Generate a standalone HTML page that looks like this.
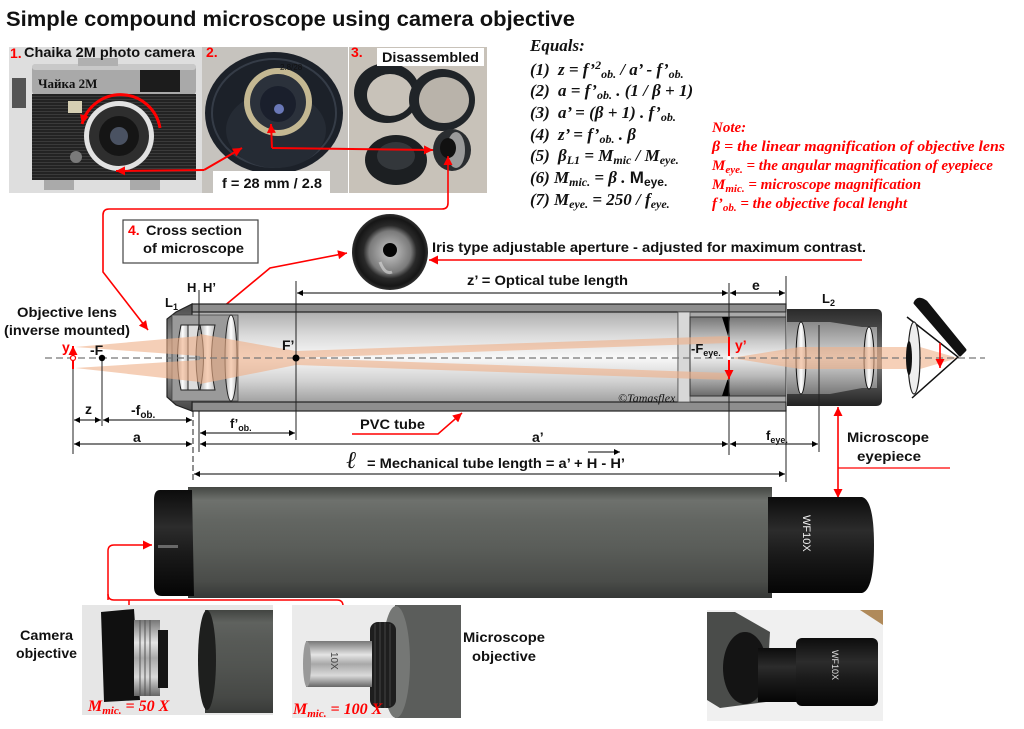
<!DOCTYPE html>
<html><head><meta charset="utf-8"><style>
html,body{margin:0;padding:0;background:#fff;}
svg{display:block;}
text{font-family:"Liberation Sans",Arial,sans-serif;font-weight:bold;fill:#111;}
.s{font-family:"Liberation Serif",serif;font-style:italic;font-weight:bold;}
.r{fill:#f00;}
</style></head><body>
<svg width="1024" height="729" viewBox="0 0 1024 729" xmlns="http://www.w3.org/2000/svg">
<defs>
<marker id="ab" viewBox="0 0 10 10" refX="10" refY="5" markerUnits="userSpaceOnUse" markerWidth="9" markerHeight="6" orient="auto-start-reverse"><path d="M0,0 L10,5 L0,10 z" fill="#000"/></marker>
<marker id="ar" viewBox="0 0 10 10" refX="10" refY="5" markerUnits="userSpaceOnUse" markerWidth="13" markerHeight="9" orient="auto-start-reverse"><path d="M0,0 L10,5 L0,10 z" fill="#f00"/></marker>
<linearGradient id="tubeG" x1="0" y1="0" x2="0" y2="1"><stop offset="0" stop-color="#8a8a8a"/><stop offset="0.1" stop-color="#b4b4b4"/><stop offset="0.3" stop-color="#dcdcdc"/><stop offset="0.5" stop-color="#f8f8f8"/><stop offset="0.72" stop-color="#d2d2d2"/><stop offset="0.92" stop-color="#a0a0a0"/><stop offset="1" stop-color="#7a7a7a"/></linearGradient>
<linearGradient id="insG" x1="0" y1="0" x2="0" y2="1"><stop offset="0" stop-color="#777"/><stop offset="0.3" stop-color="#c8c8c8"/><stop offset="0.5" stop-color="#eee"/><stop offset="0.75" stop-color="#b8b8b8"/><stop offset="1" stop-color="#6a6a6a"/></linearGradient>
<linearGradient id="eyeG" x1="0" y1="0" x2="0" y2="1"><stop offset="0" stop-color="#2a2a2a"/><stop offset="0.35" stop-color="#5e5e5e"/><stop offset="0.55" stop-color="#7a7a7a"/><stop offset="0.8" stop-color="#4a4a4a"/><stop offset="1" stop-color="#222"/></linearGradient>
<linearGradient id="eyeIn" x1="0" y1="0" x2="0" y2="1"><stop offset="0" stop-color="#8a8a8a"/><stop offset="0.5" stop-color="#d8d8d8"/><stop offset="1" stop-color="#7a7a7a"/></linearGradient>
<linearGradient id="objG" x1="0" y1="0" x2="0" y2="1"><stop offset="0" stop-color="#4a4a4a"/><stop offset="0.5" stop-color="#a8a8a8"/><stop offset="1" stop-color="#444"/></linearGradient>
<linearGradient id="lensG" x1="0" y1="0" x2="1" y2="0"><stop offset="0" stop-color="#aaa"/><stop offset="0.5" stop-color="#fff"/><stop offset="1" stop-color="#bbb"/></linearGradient>
<linearGradient id="pTube" x1="0" y1="0" x2="0" y2="1"><stop offset="0" stop-color="#444743"/><stop offset="0.12" stop-color="#6e716d"/><stop offset="0.3" stop-color="#636662"/><stop offset="0.55" stop-color="#5a5d59"/><stop offset="0.85" stop-color="#4a4c49"/><stop offset="1" stop-color="#363836"/></linearGradient>
<linearGradient id="pBlack" x1="0" y1="0" x2="0" y2="1"><stop offset="0" stop-color="#0c0c0c"/><stop offset="0.35" stop-color="#2c2c2c"/><stop offset="0.6" stop-color="#1a1a1a"/><stop offset="1" stop-color="#050505"/></linearGradient>
<linearGradient id="silv" x1="0" y1="0" x2="0" y2="1"><stop offset="0" stop-color="#777"/><stop offset="0.3" stop-color="#e4e4e4"/><stop offset="0.5" stop-color="#a8a8a8"/><stop offset="0.75" stop-color="#dadada"/><stop offset="1" stop-color="#666"/></linearGradient>
<radialGradient id="irisG" cx="0.5" cy="0.5" r="0.5"><stop offset="0" stop-color="#c8c8c8"/><stop offset="0.55" stop-color="#7a7a7a"/><stop offset="0.7" stop-color="#2a2a2a"/><stop offset="0.9" stop-color="#161616"/><stop offset="1" stop-color="#303030"/></radialGradient>
<pattern id="lines" width="4" height="3" patternUnits="userSpaceOnUse"><rect width="4" height="3" fill="#232323"/><rect width="4" height="1" fill="#3a3a3a"/></pattern>
</defs>

<!-- Title -->
<text x="6" y="26" font-size="21" textLength="569" lengthAdjust="spacingAndGlyphs">Simple compound microscope using camera objective</text>

<!-- Photo 1: camera -->
<rect x="9" y="47" width="193" height="146" fill="#dedede"/>
<rect x="12" y="78" width="14" height="30" fill="#555"/>
<rect x="32" y="64" width="164" height="31" rx="4" fill="#a9a9a9"/>
<rect x="32" y="64" width="164" height="6" rx="3" fill="#c8c8c8"/>
<rect x="140" y="70" width="40" height="22" fill="#1c1c1c"/>
<rect x="78" y="58" width="40" height="8" fill="#b0b0b0"/>
<text x="38" y="88" font-size="13" style="font-family:'Liberation Serif',serif" fill="#222">Чайка 2M</text>
<rect x="32" y="94" width="164" height="86" fill="url(#lines)"/>
<rect x="68" y="101" width="14" height="12" fill="#d6cfb3"/>
<circle cx="76" cy="157" r="6" fill="#7a7a7a"/>
<rect x="44" y="180" width="30" height="10" fill="#aaa"/>
<rect x="130" y="180" width="30" height="10" fill="#aaa"/>
<circle cx="119" cy="136" r="35" fill="#e2e2e2"/>
<circle cx="119" cy="136" r="30" fill="#2e2e2e"/>
<circle cx="119" cy="136" r="20" fill="#151515"/>
<circle cx="119" cy="136" r="9" fill="#4a5262"/>
<path d="M160,128 A40,40 0 0 0 82,124" fill="none" stroke="#f00" stroke-width="3" marker-end="url(#ar)"/>
<text x="10" y="58" font-size="14" class="r">1.</text>
<text x="24" y="57" font-size="14" textLength="171" lengthAdjust="spacingAndGlyphs">Chaika 2M photo camera</text>

<!-- Photo 2: lens -->
<rect x="202" y="47" width="146" height="146" fill="#c6c3be"/>
<ellipse cx="274" cy="113" rx="69" ry="61" fill="#1c2129"/>
<ellipse cx="274" cy="113" rx="62" ry="54" fill="none" stroke="#353c47" stroke-width="2"/>
<ellipse cx="276" cy="130" rx="50" ry="38" fill="#252b34"/>
<circle cx="278" cy="102" r="34" fill="#c4b892"/>
<circle cx="278" cy="102" r="28" fill="#2b313b"/>
<circle cx="278" cy="104" r="18" fill="#1a1f2c"/>
<circle cx="279" cy="109" r="5" fill="#6a78b8"/>
<text x="280" y="70" font-size="8" fill="#ddd" style="font-weight:normal">2.8/28</text>
<text x="206" y="57" font-size="14" class="r">2.</text>
<rect x="213" y="171" width="117" height="22" fill="#fff"/>
<text x="222" y="188" font-size="14" textLength="100" lengthAdjust="spacingAndGlyphs">f = 28 mm / 2.8</text>

<!-- Photo 3: disassembled -->
<rect x="349" y="47" width="138" height="146" fill="#c8c2b9"/>
<ellipse cx="387" cy="93" rx="33" ry="30" fill="#1e2226"/>
<ellipse cx="390" cy="95" rx="23" ry="21" fill="#c8c2b9"/>
<ellipse cx="442" cy="100" rx="33" ry="31" fill="#202428"/>
<ellipse cx="444" cy="100" rx="25" ry="23" fill="#b9b3aa"/>
<ellipse cx="396" cy="160" rx="31" ry="25" fill="#1c1f22"/>
<ellipse cx="396" cy="156" rx="19" ry="14" fill="#33373b"/>
<ellipse cx="452" cy="150" rx="19" ry="21" fill="#2a2d30"/>
<ellipse cx="456" cy="150" rx="9" ry="18" fill="#9a9a9a"/>
<ellipse cx="448" cy="148" rx="8" ry="10" fill="#111"/>
<text x="351" y="57" font-size="14" class="r">3.</text>
<rect x="377" y="48" width="107" height="18" fill="#fff"/>
<text x="382" y="62" font-size="14" textLength="97" lengthAdjust="spacingAndGlyphs">Disassembled</text>

<!-- Red connectors in photos -->
<polyline points="204,170 242,148" fill="none" stroke="#f00" stroke-width="2" marker-end="url(#ar)"/>
<polyline points="204,170 116,171" fill="none" stroke="#f00" stroke-width="2" marker-end="url(#ar)"/>
<polyline points="272,148 271,124" fill="none" stroke="#f00" stroke-width="2" marker-end="url(#ar)"/>
<polyline points="272,148 433,150" fill="none" stroke="#f00" stroke-width="2" marker-end="url(#ar)"/>
<path d="M448,156 L448,203 Q448,209 442,209 L109,209 Q103,209 103,215 L103,272 L148,330" fill="none" stroke="#f00" stroke-width="1.6" marker-end="url(#ar)" marker-start="url(#ar)"/>

<!-- Equations -->
<g class="s" font-size="17">
<text x="530" y="51" class="s" font-size="17">Equals:</text>
<text x="530" y="75" class="s" font-size="17">(1)</text>
<text x="558" y="75" class="s" font-size="17">z = f’<tspan dy="-6" font-size="12">2</tspan><tspan dy="9" font-size="12">ob.</tspan><tspan dy="-3"> / a’ - f’</tspan><tspan dy="3" font-size="12">ob.</tspan></text>
<text x="530" y="96" class="s" font-size="17">(2)</text>
<text x="558" y="96" class="s" font-size="17">a = f’<tspan dy="3" font-size="12">ob.</tspan><tspan dy="-3"> . (1 / β + 1)</tspan></text>
<text x="530" y="118" class="s" font-size="17">(3)</text>
<text x="558" y="118" class="s" font-size="17">a’ = (β + 1) . f’<tspan dy="3" font-size="12">ob.</tspan></text>
<text x="530" y="140" class="s" font-size="17">(4)</text>
<text x="558" y="140" class="s" font-size="17">z’ = f’<tspan dy="3" font-size="12">ob.</tspan><tspan dy="-3"> . β</tspan></text>
<text x="530" y="161" class="s" font-size="17">(5)</text>
<text x="558" y="161" class="s" font-size="17">β<tspan dy="3" font-size="12">L1</tspan><tspan dy="-3"> = M</tspan><tspan dy="3" font-size="12">mic</tspan><tspan dy="-3"> / M</tspan><tspan dy="3" font-size="12">eye.</tspan></text>
<text x="530" y="183" class="s" font-size="17">(6)</text>
<text x="554" y="183" class="s" font-size="17">M<tspan dy="3" font-size="12">mic.</tspan><tspan dy="-3"> = β . </tspan><tspan style="font-family:'Liberation Sans',sans-serif;font-style:normal">M</tspan><tspan dy="3" font-size="12" style="font-family:'Liberation Sans',sans-serif;font-style:normal">eye.</tspan></text>
<text x="530" y="205" class="s" font-size="17">(7)</text>
<text x="554" y="205" class="s" font-size="17">M<tspan dy="3" font-size="12">eye.</tspan><tspan dy="-3"> = 250 / f</tspan><tspan dy="3" font-size="12">eye.</tspan></text>
</g>

<!-- Note -->
<g>
<text x="712" y="132" class="s r" font-size="15">Note:</text>
<text x="712" y="151" class="s r" font-size="15" textLength="293" lengthAdjust="spacingAndGlyphs">β = the linear magnification of objective lens</text>
<text x="712" y="170" class="s r" font-size="15">M<tspan dy="3" font-size="11">eye.</tspan><tspan dy="-3"> = the angular magnification of eyepiece</tspan></text>
<text x="712" y="189" class="s r" font-size="15">M<tspan dy="3" font-size="11">mic.</tspan><tspan dy="-3"> = microscope magnification</tspan></text>
<text x="712" y="208" class="s r" font-size="15">f’<tspan dy="3" font-size="11">ob.</tspan><tspan dy="-3"> = the objective focal lenght</tspan></text>
</g>

<!-- Cross-section label box -->
<rect x="123" y="220" width="135" height="43" fill="#fff" stroke="#444" stroke-width="1.2"/>
<text x="128" y="235" font-size="14" class="r">4.</text>
<text x="146" y="235" font-size="14" textLength="96" lengthAdjust="spacingAndGlyphs">Cross section</text>
<text x="143" y="253" font-size="14" textLength="101" lengthAdjust="spacingAndGlyphs">of microscope</text>

<!-- Iris photo -->
<circle cx="390" cy="252" r="38" fill="url(#irisG)"/>
<circle cx="390" cy="250" r="7" fill="#050505"/>
<path d="M380,262 Q385,275 392,272" stroke="#ddd" stroke-width="3" fill="none" opacity="0.6"/>
<text x="432" y="252" font-size="14" textLength="434" lengthAdjust="spacingAndGlyphs">Iris type adjustable aperture - adjusted for maximum contrast.</text>
<line x1="862" y1="260" x2="429" y2="260" stroke="#f00" stroke-width="1.6" marker-end="url(#ar)"/>
<polyline points="199,327 270,268 347,253" fill="none" stroke="#f00" stroke-width="1.6" marker-end="url(#ar)" marker-start="url(#ar)"/>

<!-- Tube cross-section -->
<rect x="192" y="304" width="594" height="107" fill="url(#tubeG)"/>
<rect x="192" y="304" width="594" height="8" fill="#8e8e8e" stroke="#222" stroke-width="1.2"/>
<rect x="192" y="402" width="594" height="9" fill="#8e8e8e" stroke="#222" stroke-width="1.2"/>
<!-- eyepiece insert -->
<rect x="678" y="312" width="108" height="90" fill="#aaa" stroke="#333" stroke-width="1"/>
<rect x="678" y="312" width="12" height="90" fill="#d8d8d8" stroke="#555" stroke-width="0.8"/>
<rect x="690" y="317" width="96" height="79" fill="url(#insG)" stroke="#333" stroke-width="1"/>
<polygon points="722,317 730,317 728,336" fill="#000"/>
<polygon points="722,396 730,396 728,378" fill="#000"/>
<!-- eyepiece housing -->
<path d="M787,309 L876,309 Q882,309 882,315 L882,400 Q882,406 876,406 L787,406 Z" fill="url(#eyeG)"/>
<polygon points="787,322 830,322 862,327 877,327 877,388 862,388 830,394 787,394" fill="url(#eyeIn)"/>
<ellipse cx="801" cy="358" rx="5" ry="36" fill="url(#lensG)" stroke="#111" stroke-width="1"/>
<ellipse cx="869" cy="358" rx="5" ry="31" fill="url(#lensG)" stroke="#111" stroke-width="1"/>
<!-- objective housing -->
<polygon points="192,304 176,312 167,319 167,397 176,405 192,411" fill="url(#objG)" stroke="#222" stroke-width="1.2"/>
<rect x="172" y="315" width="66" height="86" fill="#9a9a9a" stroke="#444" stroke-width="0.8"/>
<path d="M181,325 Q174,358 181,390 L188,390 L188,325 Z" fill="url(#lensG)" stroke="#222" stroke-width="1"/>
<path d="M188,325 L199,325 Q193,358 199,390 L188,390 Z" fill="#ddd" stroke="#222" stroke-width="1"/>
<path d="M200,325 L215,325 Q208,358 215,390 L200,390 Q207,358 200,325 Z" fill="url(#lensG)" stroke="#222" stroke-width="1"/>
<ellipse cx="231" cy="358" rx="6" ry="43" fill="url(#lensG)" stroke="#222" stroke-width="1"/>

<!-- light beams -->
<g fill="#f0b088" opacity="0.6">
<polygon points="75,347 200,336 200,356"/>
<polygon points="75,368 200,360 200,382"/>
<polygon points="200,334 296,351 296,365 200,384"/>
<polygon points="296,351 728,336 728,343 296,358"/>
<polygon points="296,358 728,373 728,380 296,365"/>
<polygon points="731,358 800,347 920,347 958,358 920,369 800,369"/>
</g>

<!-- optical axis -->
<line x1="45" y1="358" x2="985" y2="358" stroke="#777" stroke-width="1.2" stroke-dasharray="7,4"/>

<!-- eye -->
<path d="M907,317 L958,357 L912,398" fill="none" stroke="#111" stroke-width="1.5"/>
<ellipse cx="914" cy="358" rx="6" ry="36" fill="#eee" stroke="#222" stroke-width="1.2"/>
<ellipse cx="909" cy="358" rx="3" ry="17" fill="#111"/>
<path d="M915,303 Q918,296 926,302 L965,350 L960,355 Z" fill="#111" stroke="#111" stroke-width="3" stroke-linejoin="round"/>
<line x1="940" y1="343" x2="940" y2="368" stroke="#f00" stroke-width="1.6" marker-end="url(#ar)"/>

<!-- vertical reference lines -->
<g stroke="#222" stroke-width="1">
<line x1="73" y1="368" x2="73" y2="454"/>
<line x1="102" y1="358" x2="102" y2="426"/>
<line x1="193" y1="411" x2="193" y2="480" stroke-dasharray="6,3"/>
<line x1="199" y1="290" x2="199" y2="330"/>
<line x1="199" y1="411" x2="199" y2="452"/>
<line x1="296" y1="281" x2="296" y2="440"/>
<line x1="729" y1="283" x2="729" y2="455"/>
<line x1="786" y1="276" x2="786" y2="304"/>
<line x1="786" y1="406" x2="786" y2="482"/>
<line x1="819" y1="325" x2="819" y2="452"/>
</g>
<circle cx="102" cy="358" r="3.2" fill="#000"/>
<circle cx="296" cy="358" r="3.5" fill="#000"/>

<!-- object and image arrows -->
<line x1="73" y1="369" x2="73" y2="346" stroke="#f00" stroke-width="2" marker-end="url(#ar)"/>
<circle cx="73" cy="358" r="2.5" fill="#fff" stroke="#f00" stroke-width="1.2"/>
<line x1="729" y1="337" x2="729" y2="379" stroke="#f00" stroke-width="2" marker-end="url(#ar)"/>
<circle cx="729" cy="358" r="2" fill="#fff"/>

<!-- dimension lines -->
<g stroke="#000" stroke-width="1" fill="none">
<line x1="74" y1="420" x2="101" y2="420" marker-start="url(#ab)" marker-end="url(#ab)"/>
<line x1="103" y1="420" x2="192" y2="420" marker-start="url(#ab)" marker-end="url(#ab)"/>
<line x1="200" y1="433" x2="295" y2="433" marker-start="url(#ab)" marker-end="url(#ab)"/>
<line x1="74" y1="444" x2="192" y2="444" marker-start="url(#ab)" marker-end="url(#ab)"/>
<line x1="200" y1="444" x2="728" y2="444" marker-start="url(#ab)" marker-end="url(#ab)"/>
<line x1="730" y1="444" x2="818" y2="444" marker-start="url(#ab)" marker-end="url(#ab)"/>
<line x1="194" y1="474" x2="785" y2="474" marker-start="url(#ab)" marker-end="url(#ab)"/>
<line x1="297" y1="293" x2="728" y2="293" marker-start="url(#ab)" marker-end="url(#ab)"/>
<line x1="730" y1="293" x2="785" y2="293" marker-start="url(#ab)" marker-end="url(#ab)"/>
<line x1="588" y1="452" x2="620" y2="452" marker-end="url(#ab)"/>
</g>

<!-- cross-section labels -->
<text x="17" y="317" font-size="14" textLength="100" lengthAdjust="spacingAndGlyphs">Objective lens</text>
<text x="4" y="335" font-size="14" textLength="126" lengthAdjust="spacingAndGlyphs">(inverse mounted)</text>
<text x="165" y="307" font-size="13">L<tspan dy="3" font-size="9">1</tspan></text>
<text x="187" y="292" font-size="13">H</text>
<text x="203" y="292" font-size="13">H’</text>
<text x="62" y="352" font-size="14" class="r">y</text>
<text x="90" y="355" font-size="14">-F</text>
<text x="282" y="350" font-size="14">F’</text>
<text x="85" y="414" font-size="14">z</text>
<text x="131" y="415" font-size="14">-f<tspan dy="3" font-size="10">ob.</tspan></text>
<text x="133" y="442" font-size="14">a</text>
<text x="230" y="428" font-size="13">f’<tspan dy="3" font-size="9">ob.</tspan></text>
<text x="360" y="429" font-size="14" textLength="65" lengthAdjust="spacingAndGlyphs">PVC tube</text>
<polyline points="352,434 438,434 462,413" fill="none" stroke="#f00" stroke-width="1.5" marker-end="url(#ar)"/>
<text x="532" y="442" font-size="14">a’</text>
<text x="346" y="468" font-size="24" style="font-family:'Liberation Serif',serif;font-style:italic;font-weight:normal">ℓ</text>
<text x="367" y="468" font-size="14" textLength="258" lengthAdjust="spacingAndGlyphs">= Mechanical tube length = a’ + H - H’</text>
<text x="467" y="285" font-size="14" textLength="161" lengthAdjust="spacingAndGlyphs">z’ = Optical tube length</text>
<text x="752" y="290" font-size="14">e</text>
<text x="822" y="303" font-size="13">L<tspan dy="3" font-size="9">2</tspan></text>
<text x="691" y="353" font-size="13">-F<tspan dy="3" font-size="9">eye.</tspan></text>
<text x="735" y="350" font-size="14" class="r">y’</text>
<text x="766" y="440" font-size="13">f<tspan dy="3" font-size="9">eye.</tspan></text>
<text x="618" y="402" font-size="12" style="font-family:'Liberation Serif',serif;font-style:italic;font-weight:normal" fill="#333">©Tamasflex</text>
<text x="847" y="442" font-size="14" textLength="82" lengthAdjust="spacingAndGlyphs">Microscope</text>
<text x="857" y="461" font-size="14" textLength="64" lengthAdjust="spacingAndGlyphs">eyepiece</text>
<line x1="838" y1="468" x2="950" y2="468" stroke="#f00" stroke-width="1.2"/>
<line x1="838" y1="452" x2="838" y2="407" stroke="#f00" stroke-width="1.6" marker-end="url(#ar)"/>
<line x1="838" y1="452" x2="838" y2="498" stroke="#f00" stroke-width="1.6" marker-end="url(#ar)"/>

<!-- Tube photo -->
<rect x="188" y="487" width="584" height="111" fill="url(#pTube)"/>
<path d="M192,490 L160,490 Q154,490 154,500 L154,587 Q154,596 162,596 L194,596 Z" fill="url(#pBlack)"/>
<rect x="158" y="545" width="20" height="3" fill="#888" opacity="0.7"/>
<path d="M768,497 L862,497 Q874,500 874,545 Q874,590 862,593 L768,593 Z" fill="url(#pBlack)"/>
<text transform="translate(803,515) rotate(90)" font-size="11" style="fill:#eee;font-weight:normal">WF10X</text>

<!-- bottom-left red connectors -->
<path d="M108,600 L108,551 Q108,545 114,545 L152,545" fill="none" stroke="#f00" stroke-width="1.5" marker-end="url(#ar)"/>
<path d="M108,594 Q108,600 114,600 L337,600 Q343,600 343,606 L343,637" fill="none" stroke="#f00" stroke-width="1.5" marker-end="url(#ar)"/>
<line x1="129" y1="600" x2="129" y2="628" stroke="#f00" stroke-width="1.5" marker-end="url(#ar)"/>

<!-- Camera objective photo -->
<rect x="82" y="605" width="191" height="110" fill="#e6e6e6"/>
<polygon points="101,612 134,609 140,700 104,702" fill="#101010"/>
<rect x="134" y="620" width="26" height="76" fill="url(#silv)"/>
<g stroke="#555" stroke-width="1"><line x1="140" y1="620" x2="140" y2="696"/><line x1="145" y1="620" x2="145" y2="696"/><line x1="150" y1="620" x2="150" y2="696"/></g>
<rect x="158" y="630" width="10" height="58" fill="#151515"/>
<rect x="205" y="610" width="68" height="103" fill="#3d3f3d"/>
<rect x="205" y="610" width="68" height="103" fill="url(#pTube)" opacity="0.7"/>
<ellipse cx="207" cy="660" rx="9" ry="50" fill="#1e1f1e"/>
<text x="88" y="711" font-size="16" class="s r">M<tspan dy="3" font-size="11">mic.</tspan><tspan dy="-3"> = 50 X</tspan></text>
<text x="20" y="640" font-size="14" textLength="53" lengthAdjust="spacingAndGlyphs">Camera</text>
<text x="16" y="658" font-size="14" textLength="61" lengthAdjust="spacingAndGlyphs">objective</text>

<!-- Microscope objective photo -->
<rect x="292" y="605" width="169" height="113" fill="#ebebeb"/>
<rect x="395" y="605" width="66" height="113" fill="#5b5d5b"/>
<ellipse cx="396" cy="662" rx="14" ry="56" fill="#757775"/>
<rect x="370" y="622" width="26" height="86" rx="8" fill="#1e1e1e"/>
<g stroke="#444" stroke-width="1"><line x1="375" y1="624" x2="375" y2="706"/><line x1="380" y1="622" x2="380" y2="708"/><line x1="385" y1="622" x2="385" y2="708"/><line x1="390" y1="624" x2="390" y2="706"/></g>
<rect x="306" y="641" width="66" height="46" fill="url(#silv)"/>
<ellipse cx="307" cy="664" rx="4" ry="23" fill="#999"/>
<text transform="translate(331,652) rotate(90)" font-size="10" style="fill:#444;font-weight:normal">10X</text>
<text x="293" y="714" font-size="16" class="s r">M<tspan dy="3" font-size="11">mic.</tspan><tspan dy="-3"> = 100 X</tspan></text>
<text x="463" y="642" font-size="14" textLength="82" lengthAdjust="spacingAndGlyphs">Microscope</text>
<text x="472" y="661" font-size="14" textLength="64" lengthAdjust="spacingAndGlyphs">objective</text>

<!-- Eyepiece photo -->
<rect x="707" y="610" width="176" height="111" fill="#f0f0f0"/>
<polygon points="860,610 883,610 883,625" fill="#b08a5a"/>
<polygon points="707,612 735,612 770,632 766,702 720,708 707,700" fill="#4a4c4a"/>
<ellipse cx="745" cy="668" rx="22" ry="36" fill="#141414"/>
<rect x="758" y="648" width="50" height="54" fill="url(#pBlack)"/>
<rect x="796" y="638" width="82" height="68" rx="6" fill="url(#pBlack)"/>
<text transform="translate(832,650) rotate(90)" font-size="9" style="fill:#ddd;font-weight:normal">WF10X</text>
</svg>
</body></html>
